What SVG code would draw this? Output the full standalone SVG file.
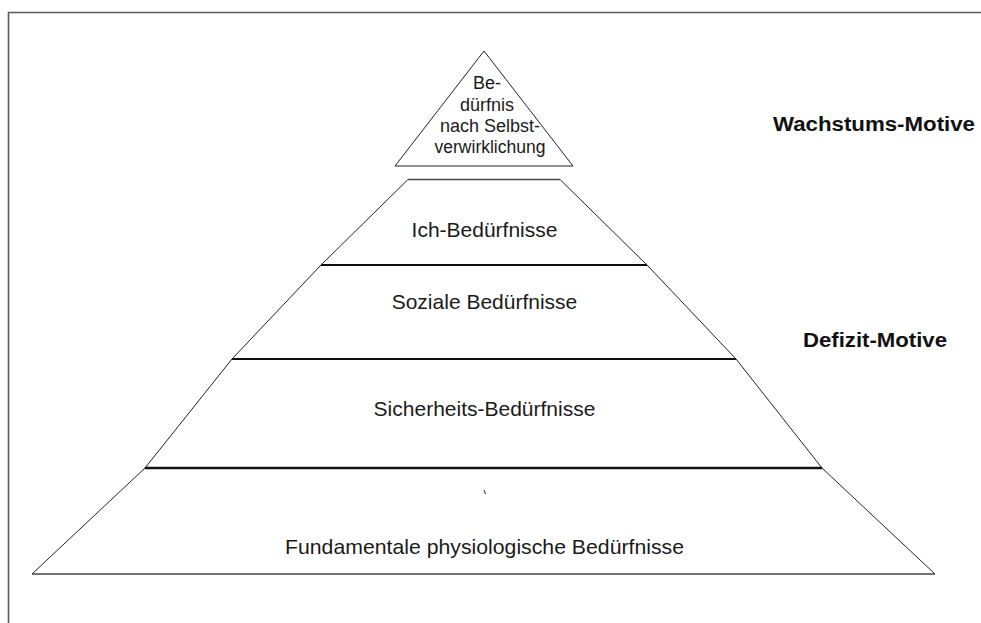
<svg xmlns="http://www.w3.org/2000/svg" width="981" height="623" viewBox="0 0 981 623">
<style>
.frame{stroke:#5a5a5a;stroke-width:1.6;fill:none}
.edge{stroke:#222;stroke-width:1;fill:none}
.sep{stroke:#111;stroke-width:2.2;fill:none}
.base{stroke:#444;stroke-width:1.4;fill:none}
.lbl{font-family:"Liberation Sans",Arial,sans-serif;font-size:21px;fill:#1a1a1a;text-anchor:middle}
.top{font-family:"Liberation Sans",Arial,sans-serif;font-size:18px;fill:#1a1a1a;text-anchor:middle}
.head{font-family:"Liberation Sans",Arial,sans-serif;font-size:20px;font-weight:bold;fill:#111}
</style>
<rect width="981" height="623" fill="#fff"/>
<g id="frame">
<line class="frame" x1="8" y1="12.5" x2="981" y2="12.5"/>
<line class="frame" x1="8.5" y1="12" x2="8.5" y2="623"/>
</g>
<g id="selbstverwirklichung">
<polygon class="edge" points="484,51 395,166 573,166"/>
<text class="top" x="487" y="89">Be-</text>
<text class="top" x="487" y="111">dürfnis</text>
<text class="top" x="490" y="132">nach Selbst-</text>
<text class="top" x="490" y="153" textLength="111" lengthAdjust="spacingAndGlyphs">verwirklichung</text>
</g>
<g id="ich">
<line class="base" x1="408" y1="179.5" x2="560" y2="179.5"/>
<line class="edge" x1="408" y1="179.5" x2="321" y2="265"/>
<line class="edge" x1="560" y1="179.5" x2="647" y2="265"/>
<line class="sep" x1="321" y1="265" x2="647" y2="265"/>
<text class="lbl" x="484.5" y="237">Ich-Bedürfnisse</text>
</g>
<g id="soziale">
<line class="edge" x1="321" y1="265" x2="232" y2="359"/>
<line class="edge" x1="647" y1="265" x2="736" y2="359"/>
<line class="sep" x1="232" y1="359" x2="736" y2="359" style="stroke-width:1.8"/>
<text class="lbl" x="484.5" y="309">Soziale Bedürfnisse</text>
</g>
<g id="sicherheit">
<line class="edge" x1="232" y1="359" x2="145" y2="468"/>
<line class="edge" x1="736" y1="359" x2="822" y2="468"/>
<line class="sep" x1="145" y1="468" x2="822" y2="468" style="stroke-width:2.6"/>
<text class="lbl" x="484.5" y="416">Sicherheits-Bedürfnisse</text>
</g>
<g id="physiologisch">
<line class="edge" x1="145" y1="468" x2="32" y2="574"/>
<line class="edge" x1="822" y1="468" x2="935" y2="574"/>
<line class="base" x1="32" y1="574" x2="935" y2="574"/>
<line class="edge" x1="484" y1="490" x2="485.5" y2="494"/>
<text class="lbl" x="484.5" y="554" textLength="399" lengthAdjust="spacingAndGlyphs">Fundamentale physiologische Bedürfnisse</text>
</g>
<g id="wachstum">
<text class="head" x="773" y="131" textLength="202" lengthAdjust="spacingAndGlyphs">Wachstums-Motive</text>
</g>
<g id="defizit">
<text class="head" x="803" y="347" textLength="144" lengthAdjust="spacingAndGlyphs">Defizit-Motive</text>
</g>
<g id="connectors"></g>
</svg>
